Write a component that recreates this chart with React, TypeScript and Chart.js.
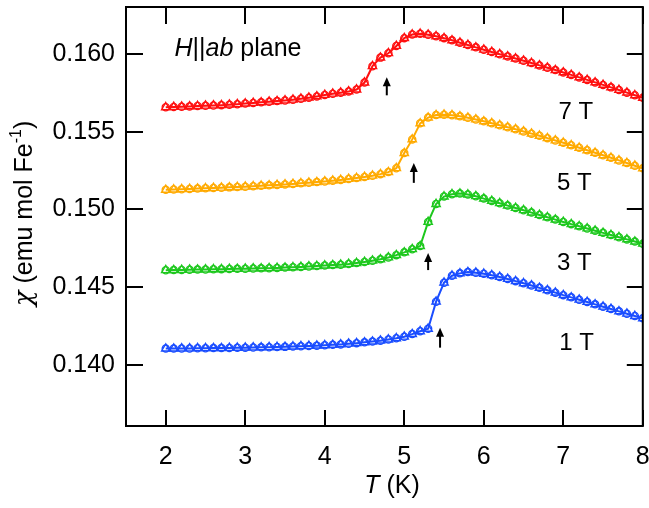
import React, { useEffect, useRef } from "react";
import { Chart, registerables } from "chart.js";

Chart.register(...registerables);

// Temperature (K)
const temps = [
  2.0, 2.1, 2.2, 2.3, 2.4, 2.5, 2.6, 2.7, 2.8, 2.9,
  3.0, 3.1, 3.2, 3.3, 3.4, 3.5, 3.6, 3.7, 3.8, 3.9,
  4.0, 4.1, 4.2, 4.3, 4.4, 4.5, 4.6, 4.7, 4.8, 4.9,
  5.0, 5.1, 5.2, 5.3, 5.4, 5.5, 5.6, 5.7, 5.8, 5.9,
  6.0, 6.1, 6.2, 6.3, 6.4, 6.5, 6.6, 6.7, 6.8, 6.9,
  7.0, 7.1, 7.2, 7.3, 7.4, 7.5, 7.6, 7.7, 7.8, 7.9,
  8.0,
];

// chi (emu mol Fe^-1)
const chi7T = [
  0.15656, 0.15658, 0.1566, 0.15662, 0.15664, 0.15666, 0.15668, 0.1567, 0.15673, 0.15676,
  0.1568, 0.15684, 0.15688, 0.15692, 0.15696, 0.157, 0.15705, 0.15711, 0.15718, 0.15726,
  0.15735, 0.15743, 0.1575, 0.15758, 0.1577, 0.15815, 0.1592, 0.15975, 0.16003, 0.1605,
  0.161, 0.16123, 0.16128, 0.16122, 0.16112, 0.161, 0.16086, 0.16071, 0.16056, 0.16041,
  0.16026, 0.16011, 0.15997, 0.15983, 0.15969, 0.15955, 0.1594, 0.15925, 0.1591, 0.15895,
  0.1588, 0.15864, 0.15848, 0.15832, 0.15816, 0.158, 0.15784, 0.15767, 0.1575, 0.15733,
  0.15717,
];
const chi5T = [
  0.15126, 0.15128, 0.1513, 0.15132, 0.15134, 0.15136, 0.15138, 0.1514, 0.15142, 0.15144,
  0.15146, 0.15149, 0.15152, 0.15155, 0.15158, 0.15161, 0.15164, 0.15168, 0.15172, 0.15176,
  0.1518, 0.15185, 0.1519, 0.15196, 0.15202, 0.15209, 0.15217, 0.15227, 0.1524, 0.15265,
  0.15362, 0.1545, 0.15553, 0.1559, 0.15606, 0.15609, 0.15605, 0.15598, 0.15589, 0.15578,
  0.15566, 0.15554, 0.15541, 0.15528, 0.15515, 0.15501, 0.15487, 0.15473, 0.15458, 0.15443,
  0.15428, 0.15412, 0.15396, 0.1538, 0.15364, 0.15348, 0.15332, 0.15315, 0.15298, 0.15281,
  0.15264,
];
const chi3T = [
  0.1461, 0.14611, 0.14612, 0.14613, 0.14614, 0.14615, 0.14616, 0.14617, 0.14618, 0.14619,
  0.1462, 0.14621, 0.14622, 0.14623, 0.14625, 0.14627, 0.14629, 0.14631, 0.14634, 0.14637,
  0.1464, 0.14643, 0.14646, 0.1465, 0.14656, 0.14663, 0.14671, 0.1468, 0.14692, 0.14707,
  0.14725, 0.14745, 0.14765, 0.1492, 0.15035, 0.15083, 0.15098, 0.15102, 0.15096, 0.15085,
  0.1507, 0.15055, 0.1504, 0.15025, 0.1501, 0.14995, 0.1498, 0.14965, 0.1495, 0.14935,
  0.1492, 0.14906, 0.14892, 0.14878, 0.14864, 0.1485, 0.14836, 0.14822, 0.14808, 0.14794,
  0.1478,
];
const chi1T = [
  0.14107, 0.14107, 0.14108, 0.14108, 0.14109, 0.14109, 0.1411, 0.1411, 0.14111, 0.14112,
  0.14113, 0.14114, 0.14115, 0.14116, 0.14117, 0.14118, 0.1412, 0.14122, 0.14124, 0.14126,
  0.14128, 0.14131, 0.14134, 0.14138, 0.14142, 0.14147, 0.14152, 0.14158, 0.14165, 0.14173,
  0.14183, 0.142, 0.14218, 0.14234, 0.14408, 0.1453, 0.14575, 0.1459, 0.14598, 0.14594,
  0.14587, 0.14578, 0.14567, 0.14554, 0.1454, 0.14526, 0.14512, 0.14497, 0.14482, 0.14466,
  0.1445, 0.14436, 0.14421, 0.14406, 0.14391, 0.14376, 0.14361, 0.14346, 0.14331, 0.14316,
  0.14301,
];

const seriesNames = ["7 T", "5 T", "3 T", "1 T"];
const seriesColors = ["#ff1010", "#ffaa00", "#1ec81e", "#1a4dff"];
const seriesValues = [chi7T, chi5T, chi3T, chi1T];

// Field labels (left x in K, centre y in chi)
const labelT = [6.94, 6.92, 6.92, 6.95];
const labelChi = [0.15622, 0.15165, 0.14656, 0.14139];

// Transition arrows (T, tip chi, base chi)
const arrowT = [4.78, 5.12, 5.3, 5.45];
const arrowTip = [0.15849, 0.15299, 0.1472, 0.14241];
const arrowBase = [0.15733, 0.15171, 0.14611, 0.14113];

const xTicks = [2, 3, 4, 5, 6, 7, 8];
const yTicks = [0.14, 0.145, 0.15, 0.155, 0.16];

const FONT = "'Liberation Sans', Arial, Helvetica, sans-serif";

const decorPlugin = {
  id: "decor",
  afterDraw(chart: any) {
    const { ctx, chartArea } = chart;
    const xs = chart.scales.x;
    const ys = chart.scales.y;
    const { left, right, top, bottom } = chartArea;
    ctx.save();
    ctx.strokeStyle = "#000";
    ctx.fillStyle = "#000";
    ctx.lineWidth = 2;
    // frame
    ctx.strokeRect(left, top, right - left, bottom - top);
    // inward ticks
    ctx.beginPath();
    xTicks.forEach((v) => {
      const px = Math.round(xs.getPixelForValue(v));
      ctx.moveTo(px, bottom);
      ctx.lineTo(px, bottom - 16);
      ctx.moveTo(px, top);
      ctx.lineTo(px, top + 17);
    });
    yTicks.forEach((v) => {
      const py = Math.round(ys.getPixelForValue(v));
      ctx.moveTo(left, py);
      ctx.lineTo(left + 17, py);
      ctx.moveTo(right, py);
      ctx.lineTo(right - 16, py);
    });
    ctx.stroke();

    // arrows
    arrowT.forEach((t, i) => {
      const px = xs.getPixelForValue(t);
      const pt = ys.getPixelForValue(arrowTip[i]);
      const pb = ys.getPixelForValue(arrowBase[i]);
      ctx.lineWidth = 2;
      ctx.beginPath();
      ctx.moveTo(px, pb);
      ctx.lineTo(px, pt + 6);
      ctx.stroke();
      ctx.beginPath();
      ctx.moveTo(px, pt);
      ctx.lineTo(px - 4, pt + 9);
      ctx.lineTo(px + 4, pt + 9);
      ctx.closePath();
      ctx.fill();
    });

    // field labels
    ctx.font = `24px ${FONT}`;
    ctx.textBaseline = "middle";
    ctx.textAlign = "left";
    seriesNames.forEach((name, i) => {
      ctx.fillText(name, xs.getPixelForValue(labelT[i]), ys.getPixelForValue(labelChi[i]));
    });

    // mixed-style helper
    const drawParts = (parts: { t: string; f: string; dy?: number }[], x: number, y: number, center: boolean) => {
      let total = 0;
      parts.forEach((p) => {
        ctx.font = p.f;
        total += ctx.measureText(p.t).width;
      });
      let cx = center ? x - total / 2 : x;
      parts.forEach((p) => {
        ctx.font = p.f;
        ctx.fillText(p.t, cx, y + (p.dy || 0));
        cx += ctx.measureText(p.t).width;
      });
    };

    ctx.textAlign = "left";
    ctx.textBaseline = "middle";
    // annotation
    drawParts(
      [
        { t: "H", f: `italic 25px ${FONT}` },
        { t: "||", f: `25px ${FONT}` },
        { t: "ab", f: `italic 25px ${FONT}` },
        { t: " plane", f: `25px ${FONT}` },
      ],
      xs.getPixelForValue(2.11),
      ys.getPixelForValue(0.16027),
      false
    );

    // x title
    drawParts(
      [
        { t: "T", f: `italic 25px ${FONT}` },
        { t: " (K)", f: `25px ${FONT}` },
      ],
      392,
      486,
      true
    );

    // y title
    ctx.save();
    ctx.translate(25, (top + bottom) / 2 - 3);
    ctx.rotate(-Math.PI / 2);
    drawParts(
      [
        { t: "χ", f: `italic 26px 'DejaVu Serif', serif` },
        { t: " (emu mol Fe", f: `25px ${FONT}` },
        { t: "-1", f: `16px ${FONT}`, dy: -8 },
        { t: ")", f: `25px ${FONT}` },
      ],
      0,
      0,
      true
    );
    ctx.restore();

    ctx.restore();
  },
};

export default function App() {
  const ref = useRef<HTMLCanvasElement | null>(null);

  useEffect(() => {
    document.body.style.margin = "0";
    const canvas = ref.current;
    if (!canvas) return;

    const datasets: any[] = [];
    seriesValues.forEach((vals, i) => {
      const pts = temps.map((t, j) => ({ x: t, y: vals[j] }));
      datasets.push({
        label: seriesNames[i] + " line",
        data: pts,
        borderColor: seriesColors[i],
        backgroundColor: "rgba(0,0,0,0)",
        borderWidth: 2,
        pointStyle: "triangle",
        pointRadius: 4.8,
        pointBorderWidth: 1.4,
        pointBorderColor: seriesColors[i],
        pointBackgroundColor: "rgba(0,0,0,0)",
        showLine: true,
        tension: 0,
      });
      datasets.push({
        label: seriesNames[i] + " circles",
        data: pts,
        borderColor: seriesColors[i],
        backgroundColor: "rgba(0,0,0,0)",
        showLine: false,
        pointStyle: "circle",
        pointRadius: 3.6,
        pointBorderWidth: 1.3,
        pointBorderColor: seriesColors[i],
        pointBackgroundColor: "rgba(0,0,0,0)",
      });
    });

    const zeroPad = (scale: any) => {
      scale.paddingTop = 0;
      scale.paddingBottom = 0;
      scale.paddingLeft = 0;
      scale.paddingRight = 0;
    };

    const chart = new Chart(canvas, {
      type: "scatter",
      data: { datasets },
      options: {
        responsive: false,
        animation: false,
        maintainAspectRatio: false,
        layout: { padding: { left: 0, right: 3, top: 7, bottom: 0 } },
        plugins: {
          legend: { display: false },
          tooltip: { enabled: false },
        },
        scales: {
          x: {
            type: "linear",
            min: 1.5,
            max: 8,
            grid: { display: false, drawTicks: false },
            border: { display: false },
            afterBuildTicks: (scale: any) => {
              scale.ticks = xTicks.map((v) => ({ value: v }));
            },
            afterFit: (scale: any) => {
              scale.height = 82;
              zeroPad(scale);
            },
            ticks: {
              padding: 16,
              color: "#000",
              font: { family: FONT, size: 25 },
              callback: (v: any) => String(v),
              maxRotation: 0,
              autoSkip: false,
            },
          },
          y: {
            type: "linear",
            min: 0.1361,
            max: 0.163,
            grid: { display: false, drawTicks: false },
            border: { display: false },
            afterBuildTicks: (scale: any) => {
              scale.ticks = yTicks.map((v) => ({ value: v }));
            },
            afterFit: (scale: any) => {
              scale.width = 126;
              zeroPad(scale);
            },
            ticks: {
              padding: 11,
              color: "#000",
              font: { family: FONT, size: 25 },
              callback: (v: any) => Number(v).toFixed(3),
              autoSkip: false,
            },
          },
        },
      },
      plugins: [decorPlugin],
    } as any);

    return () => chart.destroy();
  }, []);

  return (
    <div style={{ width: 649, height: 508, background: "#fff" }}>
      <canvas ref={ref} width={649} height={508} style={{ display: "block" }} />
    </div>
  );
}
